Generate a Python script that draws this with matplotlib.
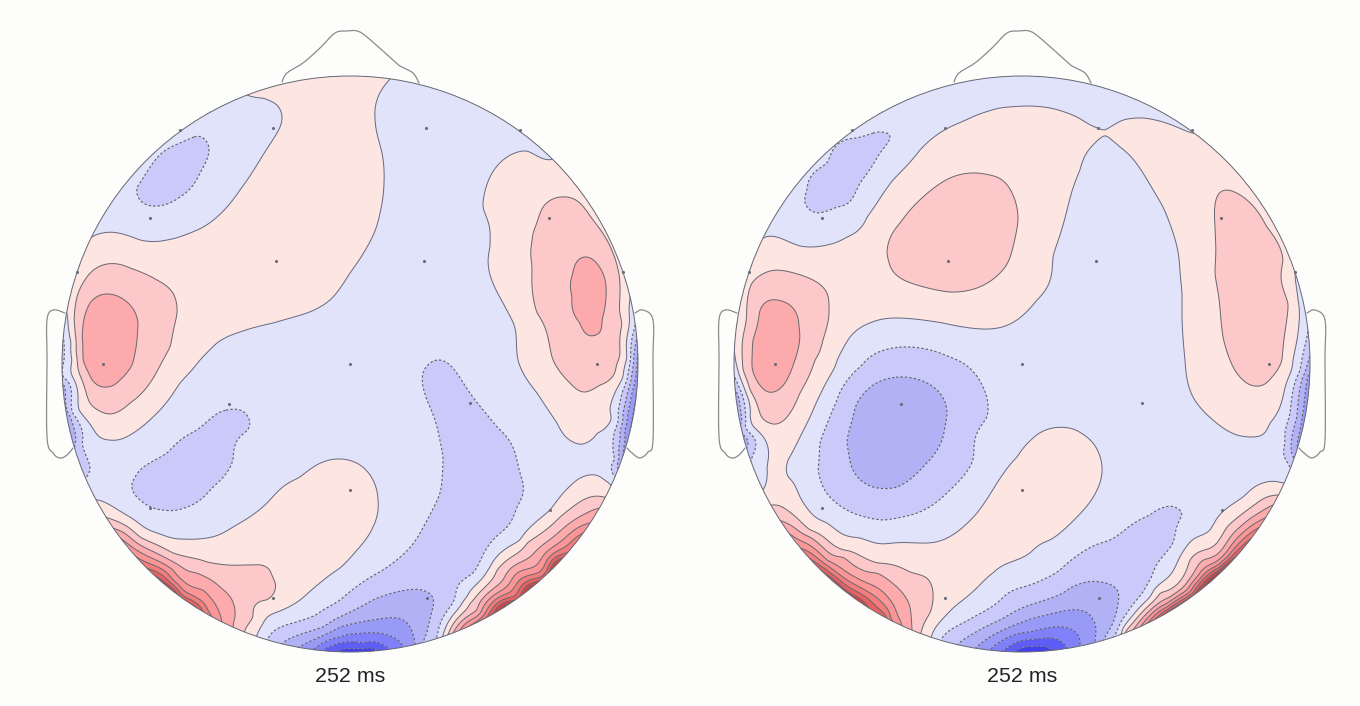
import numpy as np
import matplotlib
matplotlib.use("Agg")
import matplotlib.pyplot as plt
from matplotlib.colors import ListedColormap, BoundaryNorm
from matplotlib.patches import Circle

# ---------- field samples: (x, y) at a given level ----------
L_0 = [(92,237),(103,233),(140,240),(167,240),(190,233),(217,217),(240,190),(260,160),(277,133),(282,117),(277,105),(263,98),(247,95),
       (390,79),(377,100),(375,117),(382,153),(384,183),(380,213),(367,247),(350,273),(330,300),(307,313),(273,323),(240,332),(217,343),(200,360),
       (180,383),(153,417),(130,435),(110,440),(92,427),(78,397),(72,360),(71,343),(68,320),(66,305),
       (98,500),(123,513),(157,533),(183,539),(207,538),(233,527),(267,503),(300,477),(323,462),(340,459),(360,465),(373,480),(378,500),(373,527),(357,550),(340,568),(300,600),(257,635),
       (550,160),(527,151),(507,157),(490,177),(483,207),(490,247),(503,303),(518,360),(537,393),(557,423),(573,442),(583,444),(597,433),(610,410),(623,377),(627,357),(629,310),(630,298),
       (610,484),(590,475),(577,480),(550,510),(520,540),(490,567),(467,597),(443,635)]
L_p1 = [(74,320),(83,283),(103,265),(130,268),(157,280),(173,293),(177,313),(170,347),(163,360),(150,383),(130,403),(110,414),(98,410),(82,380),(76,350),
        (563,197),(543,207),(533,233),(532,267),(537,313),(553,360),(570,383),(585,392),(600,385),(617,363),(622,323),(620,285),(613,253),(593,220),(580,203),
        (108,518),(140,537),(173,553),(207,562),(253,565),(270,570),(275,582),(267,600),(253,617),(245,630),
        (603,497),(583,500),(560,517),(527,543),(497,570),(470,603),(450,630)]
L_p2 = [(82,337),(90,303),(107,294),(127,302),(138,323),(135,353),(132,365),(120,380),(105,387),(92,380),(83,360),
        (587,257),(573,273),(572,297),(580,323),(590,336),(602,320),(606,297),(600,268),
        (112,528),(150,550),(197,573),(220,587),(232,600),(235,617),(233,627),
        (600,508),(570,523),(537,550),(503,580),(477,610),(453,633)]
L_p3 = [(120,538),(173,570),(203,590),(217,607),(222,622),(590,523),(553,547),(517,573),(483,607),(460,630)]
L_p4 = [(130,553),(173,580),(197,598),(212,617),(583,533),(547,560),(517,583),(487,610),(467,628)]
L_p5 = [(143,567),(180,593),(203,613),(577,545),(547,570),(517,593),(487,617)]
L_p6 = [(157,577),(183,600),(200,613),(570,557),(543,580),(517,600)]
L_edge_low = [(172,594),(190,610)]
L_edge_high = [(560,570),(535,592),(510,610)]
L_m1 = [(197,136),(180,143),(153,163),(137,187),(140,200),(157,206),(180,197),(200,173),(209,148),
        (240,410),(220,412),(197,430),(167,453),(140,470),(132,483),(140,500),(163,510),(187,507),(213,487),(233,460),(248,430),(248,417),
        (437,360),(423,373),(427,400),(437,427),(443,457),(440,493),(420,533),(383,570),(340,600),(323,610),(293,623),(270,635),
        (450,365),(470,393),(497,427),(517,460),(523,483),(517,507),(493,540),(473,573),(453,603),(437,637),
        (634,330),(630,363),(620,403),(613,440),(615,460),
        (63,377),(72,413),(82,443),(90,467),(88,475)]
L_m2 = [(340,617),(373,600),(407,590),(427,592),(433,607),(428,627),(423,642),(287,640),(323,627),
        (637,337),(632,373),(623,413),(620,440),(617,463),(64,385),(70,415),(76,440)]
L_m3 = [(340,627),(373,620),(397,618),(410,627),(415,643),(313,640),(637,357),(632,393),(625,430),(623,453)]
L_m4 = [(340,637),(363,633),(387,635),(402,645),(317,647)]
L_m5 = [(340,643),(363,643),(383,645),(323,650)]
L_m6 = [(350,652),(370,651)]
L_hint_m05 = [(350,364),(300,400),(424,261),(426,128),(450,200),(400,300),(470,300),(300,360),(230,380),(210,390),(100,455),(200,525),(120,470),(250,450),
              (400,450),(460,130),(500,130),(400,100),(450,110),(560,470),(540,470),(535,430),(507,540),(300,612),(340,584),(397,530),
              (120,200),(230,130),(160,225),(225,105),(190,122),(130,180),(463,590),(600,452),(608,445),(616,420)]
L_hint_m15 = [(170,175),(480,450),(480,520),(440,560),(380,585),(190,460)]
L_hint_p05 = [(276,261),(300,150),(330,100),(350,85),(262,88),(250,250),(200,280),(350,210),(350,510),(300,530),(280,570),(130,250),(180,260),
              (505,250),(520,230),(560,170),(530,320),(590,430),(600,405),(300,100),(590,488),(200,550),(300,560),(260,610)]
L_hint_p15 = [(150,330),(100,280),(125,395),(565,240),(550,290),(612,320),(585,370),(250,590),(596,350),(614,345)]
L_hint_p25 = [(108,340),(105,320),(105,362),(120,335),(589,297),(589,275),(590,318)]

R_0 = [(763,238),(780,238),(800,246),(827,245),(847,237),(867,217),(893,180),(920,150),(950,127),(977,115),(1000,108),(1027,106),(1050,108),(1077,117),(1098,128),(1110,127),(1123,120),(1143,118),(1163,122),(1192,133),
       (1107,136),(1093,145),(1080,170),(1067,210),(1053,257),(1037,300),(1010,324),(983,329),(943,323),(897,318),(870,323),(850,337),(837,360),(810,417),(788,460),(788,477),(800,497),(827,523),(860,538),(893,543),(927,543),(957,532),(977,513),(997,483),(1017,457),(1030,441),(1053,428),(1073,429),(1093,443),(1102,467),(1097,490),(1077,517),(1050,540),(1030,553),(993,573),(963,600),(932,635),
       (1120,147),(1143,173),(1163,207),(1177,247),(1182,293),(1185,360),(1193,397),(1213,420),(1237,435),(1253,437),(1270,423),(1283,397),(1293,360),(1297,340),(1298,300),(1295,273),
       (738,370),(750,417),(767,467),(767,477),(763,490),(737,320),(747,263),
       (1283,483),(1263,483),(1243,497),(1210,530),(1177,563),(1150,597),(1122,633)]
R_p1 = [(772,505),(787,510),(810,530),(843,550),(877,563),(910,572),(927,578),(933,593),(930,613),(921,633),
        (743,337),(752,283),(767,272),(790,272),(813,280),(827,293),(829,307),(823,340),(815,360),(800,393),(787,417),(773,424),(760,413),(750,390),(743,370),
        (977,173),(950,178),(923,197),(900,223),(887,253),(892,270),(917,285),(950,292),(977,288),(1000,273),(1013,247),(1018,220),(1012,193),(997,177),
        (1227,190),(1217,197),(1215,227),(1215,273),(1223,337),(1230,360),(1243,380),(1257,386),(1272,377),(1282,360),(1288,303),(1283,260),(1267,227),(1247,200),
        (1278,495),(1257,503),(1227,527),(1190,560),(1160,593),(1125,632)]
R_p2 = [(778,520),(810,537),(843,557),(877,573),(900,590),(910,607),(912,630),
        (753,340),(760,310),(777,300),(792,307),(799,327),(796,357),(785,383),(773,392),(760,385),(752,363),
        (1273,505),(1240,527),(1203,560),(1170,597),(1133,630)]
R_p3 = [(788,533),(827,560),(867,583),(890,600),(900,620),(1267,517),(1230,547),(1197,577),(1160,607)]
R_p4 = [(797,547),(837,573),(870,593),(890,617),(1260,527),(1227,557),(1193,587),(1167,607)]
R_p5 = [(807,557),(843,583),(873,603),(887,617),(1253,537),(1220,567),(1193,593)]
R_p6 = [(820,570),(850,593),(870,610)]
R_edge_low = [(832,585),(860,608)]
R_edge_high = [(1226,572),(1200,597),(1175,615)]
R_m1 = [(890,135),(877,132),(857,138),(827,163),(807,190),(805,203),(817,213),(837,207),(860,183),(880,153),
        (910,347),(870,357),(860,367),(837,400),(820,443),(818,470),(830,497),(853,513),(883,520),(917,513),(950,490),(973,460),(987,417),(983,387),(963,363),(950,357),
        (1182,513),(1170,506),(1150,515),(1110,540),(1060,570),(1030,585),(997,603),(963,623),(942,638),(1173,543),(1150,580),(1127,613),(1115,635),
        (1300,370),(1290,413),(1285,443),(1288,463),(736,380),(745,427),(752,457)]
R_m2 = [(900,377),(873,385),(853,417),(847,443),(853,470),(873,487),(897,487),(923,467),(943,437),(947,413),(937,390),(920,380),
        (1117,590),(1100,582),(1070,588),(1030,605),(1000,620),(963,640),(1118,603),(1113,623),(1105,637),
        (1305,373),(1297,417),(1293,457),(738,395),(742,420),(748,440)]
R_m3 = [(1093,620),(1070,610),(1030,619),(1003,630),(977,647),(1095,642),(1308,375),(1302,417),(1297,445)]
R_m4 = [(1078,635),(1047,628),(1030,632),(1003,640),(1080,645)]
R_m5 = [(1063,643),(1037,639),(1010,646)]
R_m6 = [(1022,652),(1042,651)]
R_hint_m05 = [(1022,364),(1096,261),(1100,170),(1140,380),(1000,420),(1100,400),(1200,450),(1240,460),(1150,470),(1260,460),(1022,90),(945,105),(1100,105),(1150,100),
              (880,115),(790,225),(860,215),(905,333),(810,470),(900,530),(990,440),(1010,370),(1185,530),(1000,580),(1045,555),(1163,570),(760,450),
              (1195,500),(1185,495),(1165,493),(1200,515)]
R_hint_m15 = [(850,160),(830,185),(1100,560),(1120,565),(1060,585),(845,400),(835,450),(880,505),(960,430),(950,377),(1160,525)]
R_hint_m25 = [(900,430),(880,430),(920,420)]
R_hint_p05 = [(1022,130),(1000,150),(870,260),(850,290),(950,310),(1030,280),(1200,150),(1170,150),(1200,250),(1250,415),(1205,340),(1293,300),(780,490),(780,255),
              (830,360),(1022,490),(1060,480),(1000,540),(960,570),(945,598),(940,570),(900,555),(1260,493)]
R_hint_p15 = [(948,235),(970,230),(920,240),(780,285),(815,320),(1250,290),(1245,230),(1260,340),(920,595)]
R_hint_p25 = [(775,350),(775,330),(775,370),(785,340)]

left_samples = [(0,L_0),(1,L_p1),(2,L_p2),(3,L_p3),(4,L_p4),(5,L_p5),(6,L_p6),(7.6,L_edge_low),(9.5,L_edge_high),(-1,L_m1),(-2,L_m2),(-3,L_m3),(-4,L_m4),(-5,L_m5),(-6.5,L_m6),
                (-.5,L_hint_m05),(-1.5,L_hint_m15),(.5,L_hint_p05),(1.5,L_hint_p15),(2.5,L_hint_p25)]
right_samples = [(0,R_0),(1,R_p1),(2,R_p2),(3,R_p3),(4,R_p4),(5,R_p5),(6,R_p6),(7.6,R_edge_low),(9.5,R_edge_high),(-1,R_m1),(-2,R_m2),(-3,R_m3),(-4,R_m4),(-5,R_m5),(-6.5,R_m6),
                 (-.5,R_hint_m05),(-1.5,R_hint_m15),(-2.5,R_hint_m25),(.5,R_hint_p05),(1.5,R_hint_p15),(2.5,R_hint_p25)]

sensors = [(273,128),(426,128),(150,218),(549,218),(276,261),(424,261),(103,364),(350,364),(597,364),(229,404),(470,403),
           (150,508),(350,490),(550,510),(273,598),(427,598),(180,130),(520,130),(77,272),(623,272)]
sensor_shift = 672
labels = ["252 ms", "252 ms"]
centers = [350, 1022]
center_y = 364
radius = 288

# outlines, relative to the head centre
nose = [(-68,-282),(-63,-291),(-47,-301),(-30,-316),(-15,-331),(-3,-333),(7,-333),(17,-327),(43,-304),(50,-298),(63,-291),(69,-281)]
ear_l = [(-285,-51),(-297,-54),(-303,-44),(-303,-4),(-303,73),(-297,89),(-290,94),(-283,91),(-277,84)]
ear_r = [(285,-51),(293,-54),(303,-44),(303,-4),(303,76),(298,88),(290,94),(282,89),(277,84)]

pos_colors = ['#fde5e1','#fdc8c9','#fdaaac','#fb9596','#f37c7c','#e86060','#d84444','#c42a2a','#a81818']
neg_colors = ['#e0e3f9','#c9caf9','#b1b1f6','#9999f6','#8080f8','#5e5ef6','#4040f0','#2a2ae0']

def smooth(pts, k=12):
    p = np.array(pts, float)
    p = np.vstack([p[0], p, p[-1]])
    out = []
    for i in range(1, len(p)-2):
        t = np.linspace(0, 1, k, endpoint=False)[:, None]
        a, b, c, d = p[i-1], p[i], p[i+1], p[i+2]
        out.append(.5*((2*b)+(c-a)*t+(2*a-5*b+4*c-d)*t**2+(3*b-a-3*c+d)*t**3))
    out.append(p[-2][None])
    return np.vstack(out)

def fit_field(samples, cx):
    xy, v = [], []
    for val, pts in samples:
        for p in pts:
            xy.append(p); v.append(val)
    xy = (np.array(xy, float) - [cx, center_y]) / radius
    v = np.array(v, float)
    n = len(v)
    d = np.linalg.norm(xy[:, None]-xy[None], axis=2)
    with np.errstate(all='ignore'):
        K = np.where(d > 0, d**2*np.log(d), 0.0)
    P = np.c_[np.ones(n), xy]
    A = np.block([[K+1.5e-4*np.eye(n), P], [P.T, np.zeros((3, 3))]])
    sol = np.linalg.solve(A, np.r_[v, np.zeros(3)])
    gx = np.arange(cx-radius-6, cx+radius+7, 1.5)
    gy = np.arange(center_y-radius-6, center_y+radius+7, 1.5)
    X, Y = np.meshgrid(gx, gy)
    q = np.c_[(X.ravel()-cx)/radius, (Y.ravel()-center_y)/radius]
    Z = np.empty(len(q))
    for i in range(0, len(q), 20000):
        c = q[i:i+20000]
        dd = np.linalg.norm(c[:, None]-xy[None], axis=2)
        with np.errstate(all='ignore'):
            kk = np.where(dd > 0, dd**2*np.log(dd), 0.0)
        Z[i:i+20000] = kk @ sol[:n] + sol[n] + c @ sol[n+1:]
    return X, Y, Z.reshape(X.shape)

fig = plt.figure(figsize=(13.6, 7.06), dpi=100, facecolor='#fdfefc')
ax = fig.add_axes([0, 0, 1, 1])
ax.set_xlim(0, 1360); ax.set_ylim(706, 0); ax.axis('off')

levels = np.arange(-8, 10)
cmap = ListedColormap(neg_colors[::-1] + pos_colors)
norm = BoundaryNorm(levels, cmap.N)
for cx, smp, lab, shift in zip(centers, [left_samples, right_samples], labels, [0, sensor_shift]):
    X, Y, Z = fit_field(smp, cx)
    clip = Circle((cx, center_y), radius, transform=ax.transData)
    cf = ax.contourf(X, Y, Z, levels=levels, cmap=cmap, norm=norm, extend='both', antialiased=True)
    cf.set_clip_path(clip)
    c1 = ax.contour(X, Y, Z, levels=levels[levels > 0], colors='#66666e', linewidths=.7, linestyles='solid')
    c1.set_clip_path(clip)
    c0 = ax.contour(X, Y, Z, levels=[0], colors='#646880', linewidths=.7, linestyles='solid')
    c0.set_clip_path(clip)
    c2 = ax.contour(X, Y, Z, levels=levels[levels < 0], colors='#60606c', linewidths=.8, linestyles=[(0, (2.2, 1.8))])
    c2.set_clip_path(clip)
    ax.add_patch(Circle((cx, center_y), radius, fill=False, ec='#666672', lw=.7))
    for part in (nose, ear_l, ear_r):
        s = smooth(part)
        ax.plot(s[:, 0]+cx, s[:, 1]+center_y, color='#8a8a8a', lw=.9, solid_capstyle='round')
    sx, sy = zip(*sensors)
    ax.scatter(np.array(sx)+shift, sy, s=5, color='#6a6a78', linewidths=0, zorder=5)
    ax.text(cx, 676, lab, ha='center', va='center', fontsize=15.4, family='Liberation Sans', color='#222222')

fig.savefig('out.png', dpi=100, facecolor=fig.get_facecolor())
